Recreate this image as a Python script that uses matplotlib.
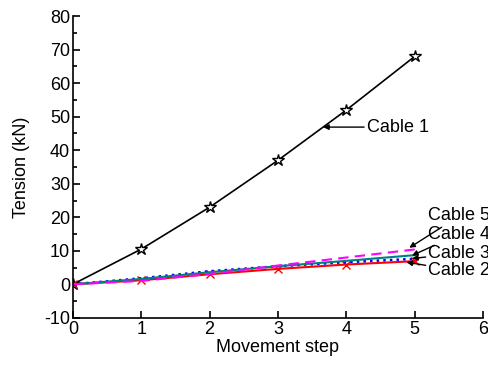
import matplotlib
matplotlib.use('Agg')
import matplotlib.pyplot as plt

plt.rcParams['font.family'] = ['Liberation Sans', 'DejaVu Sans']
plt.rcParams['axes.unicode_minus'] = False

# Datos
pasos = [0, 1, 2, 3, 4, 5]
cable1 = [0, 10.5, 23, 37, 52, 68]
cable2 = [0, 1.2, 3.0, 4.6, 5.9, 6.9]
cable3 = [0, 1.8, 3.9, 5.4, 6.6, 7.6]
cable4 = [0, 1.6, 3.6, 5.4, 7.0, 8.7]
cable5 = [0, 1.0, 3.1, 5.6, 8.0, 10.4]

etiquetas = ['Cable 1', 'Cable 2', 'Cable 3', 'Cable 4', 'Cable 5']

fig = plt.figure(figsize=(4.89, 3.67), dpi=100)
ax = fig.add_axes([0.149, 0.134, 0.839, 0.822])

ax.plot(pasos, cable1, color='black', lw=1.2, marker='*', ms=9,
        markerfacecolor='white', markeredgecolor='black', markeredgewidth=1.0)
ax.plot(pasos, cable2, color='red', lw=1.5, marker='x', ms=6, markeredgewidth=1.0)
ax.plot(pasos, cable3, color='blue', lw=1.8, ls=':')
ax.plot(pasos, cable4, color='#008080', lw=1.5)
ax.plot(pasos, cable5, color='magenta', lw=1.5, ls=(0, (5, 3)))

# Anotaciones con flechas
flecha = dict(arrowstyle='-|>', color='black', lw=1.0, mutation_scale=8, shrinkA=0, shrinkB=0)
anot = [
    (etiquetas[0], (3.66, 46.9), (4.30, 46.9)),
    (etiquetas[4], (4.92, 10.9), (5.20, 20.4)),
    (etiquetas[3], (4.96, 8.6), (5.20, 15.0)),
    (etiquetas[2], (4.96, 7.7), (5.20, 9.2)),
    (etiquetas[1], (4.88, 6.6), (5.20, 4.0)),
]
for txt, xy, xyt in anot:
    ax.annotate(txt, xy=xy, xytext=xyt, fontsize=13, ha='left', va='center',
                arrowprops=flecha, annotation_clip=False)

ax.set_xlim(0, 6)
ax.set_ylim(-10, 80)
ax.set_xticks(range(0, 7))
ax.set_yticks(range(-10, 81, 10))
ax.set_yticks(range(-5, 80, 10), minor=True)
ax.tick_params(direction='in', labelsize=13, length=5, width=1.2, pad=2)
ax.tick_params(which='minor', direction='in', length=3, width=1.2)
ax.spines['top'].set_visible(False)
ax.spines['right'].set_visible(False)
ax.spines['left'].set_linewidth(1.2)
ax.spines['bottom'].set_linewidth(1.2)

ax.set_xlabel('Movement step', fontsize=13, labelpad=1)
ax.set_ylabel('Tension (kN)', fontsize=13, labelpad=10)

plt.savefig('out.png', dpi=100)
